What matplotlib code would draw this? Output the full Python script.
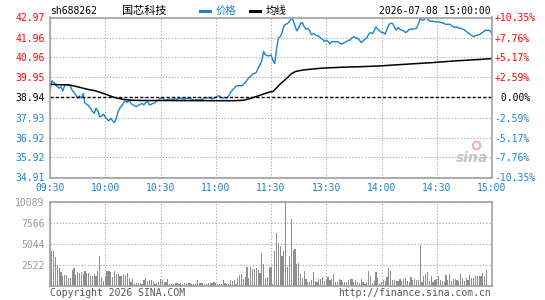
import matplotlib
matplotlib.use("Agg")
import matplotlib.pyplot as plt
from matplotlib.lines import Line2D

plt.rcParams['font.family'] = ['DejaVu Sans Mono', 'Noto Sans CJK SC']

# Chart data
code = "sh688262"
name = "国芯科技"
stamp = "2026-07-08 15:00:00"
prev_close = 38.94

# one price per minute, 09:30 .. 11:30 / 13:00 .. 15:00 (241 points)
price = [
    39.30, 39.78, 39.70, 39.58, 39.48, 39.41, 39.48, 39.27, 39.56, 39.58,
    39.56, 39.53, 39.31, 39.19, 39.07, 38.91, 39.02, 38.91, 39.14, 38.64,
    38.60, 38.52, 38.40, 38.24, 38.14, 38.40, 38.27, 37.96, 38.01, 38.10,
    37.96, 37.85, 37.76, 37.90, 37.76, 37.68, 37.90, 38.24, 38.43, 38.52,
    38.69, 38.77, 38.69, 38.80, 38.64, 38.57, 38.52, 38.49, 38.55, 38.60,
    38.64, 38.57, 38.69, 38.74, 38.57, 38.60, 38.64, 38.69, 38.77, 38.80,
    38.91, 38.91, 38.84, 38.80, 38.84, 38.87, 38.85, 38.85, 38.87, 38.84,
    38.91, 38.87, 38.89, 38.85, 38.91, 38.87, 38.91, 38.85, 38.80, 38.81,
    38.84, 38.81, 38.86, 38.84, 38.94, 38.91, 38.94, 38.91, 38.87, 38.91,
    38.94, 39.02, 39.01, 38.94, 38.91, 38.94, 38.91, 39.02, 39.19, 39.31,
    39.41, 39.51, 39.53, 39.54, 39.53, 39.58, 39.70, 39.81, 39.95, 40.01,
    40.12, 40.15, 40.20, 40.42, 40.59, 40.79, 41.26, 41.09, 41.04, 41.04,
    41.09, 40.82, 40.65, 41.37, 41.93, 42.00, 42.21, 42.55, 42.63, 42.67,
    42.77, 42.94, 42.84, 42.55, 42.30, 42.43, 42.67, 42.72, 42.50, 42.38,
    42.43, 42.30, 42.10, 42.16, 42.10, 42.05, 42.03, 41.93, 41.88, 41.76,
    41.83, 41.76, 41.63, 41.76, 41.76, 41.74, 41.76, 41.71, 41.63, 41.66,
    41.71, 41.76, 41.83, 41.83, 41.96, 42.00, 41.93, 41.93, 41.83, 41.71,
    41.79, 41.88, 41.93, 42.13, 42.21, 42.16, 42.30, 42.50, 42.37, 42.30,
    42.21, 42.21, 42.13, 42.38, 42.60, 42.68, 42.67, 42.50, 42.33, 42.47,
    42.38, 42.33, 42.30, 42.21, 42.26, 42.37, 42.38, 42.38, 42.40, 42.43,
    42.63, 42.94, 42.84, 42.85, 42.94, 42.90, 42.80, 42.77, 42.80, 42.74,
    42.77, 42.75, 42.72, 42.70, 42.67, 42.62, 42.63, 42.63, 42.57, 42.50,
    42.47, 42.50, 42.43, 42.43, 42.38, 42.35, 42.26, 42.20, 42.13, 42.06,
    42.00, 42.05, 42.08, 42.10, 42.16, 42.23, 42.30, 42.33, 42.33, 42.30,
    42.13,
]

# average price line, sampled where it bends
avg_minutes = [0, 5, 10, 15, 20, 25, 30, 35, 40, 45,
               50, 90, 100, 105, 108, 111, 114, 116, 119, 121,
               123, 125, 127, 129, 131, 133, 137, 142, 148, 155,
               160, 168, 179, 194, 208, 221, 234, 240]
avg_price = [39.61, 39.58, 39.58, 39.48, 39.36, 39.27, 39.11, 38.94, 38.84, 38.80,
             38.79, 38.78, 38.78, 38.80, 38.87, 38.96, 39.05, 39.12, 39.21, 39.24,
             39.42, 39.62, 39.78, 39.95, 40.13, 40.24, 40.32, 40.37, 40.42, 40.45,
             40.47, 40.49, 40.53, 40.62, 40.70, 40.79, 40.86, 40.90]

# volume per minute (lots)
volume = [
    450, 4160, 4160, 3400, 2360, 2080, 1600, 1200, 1320, 1240,
    880, 880, 1840, 2080, 1280, 1600, 1480, 1600, 1360, 1720,
    1480, 1480, 1120, 1120, 1440, 1120, 1720, 3520, 1000, 560,
    1000, 1720, 1720, 1600, 1000, 1720, 1360, 1360, 1120, 1120,
    1360, 1120, 1480, 760, 400, 760, 240, 360, 360, 360,
    240, 640, 880, 560, 640, 640, 480, 240, 360, 480,
    800, 680, 400, 480, 760, 240, 240, 240, 280, 360,
    240, 360, 240, 280, 240, 360, 360, 240, 240, 200,
    640, 360, 360, 280, 160, 240, 360, 280, 360, 480,
    360, 240, 240, 160, 640, 360, 240, 240, 640, 560,
    640, 240, 880, 1240, 1360, 760, 1000, 2200, 880, 2200,
    1960, 1960, 2080, 1840, 1480, 3880, 2560, 880, 1000, 2160,
    2200, 160, 4100, 6350, 5100, 4800, 3500, 4100, 10089, 2200,
    3550, 8000, 4300, 4400, 2600, 2750, 1400, 960, 1720, 760,
    400, 400, 640, 1600, 520, 400, 760, 760, 1000, 520,
    640, 1000, 640, 760, 1360, 480, 480, 760, 640, 400,
    480, 480, 640, 760, 760, 480, 640, 400, 360, 760,
    480, 240, 400, 1720, 1120, 360, 520, 1600, 880, 240,
    480, 640, 520, 1000, 2080, 1720, 640, 640, 560, 520,
    760, 520, 760, 880, 520, 480, 1000, 640, 760, 640,
    640, 4840, 400, 1120, 1360, 1600, 520, 1120, 400, 640,
    760, 1120, 640, 520, 400, 1240, 640, 1360, 520, 760,
    760, 640, 520, 1360, 880, 520, 880, 640, 1240, 880,
    880, 1120, 1120, 1120, 1120, 1480, 1120, 1840, 0, 0,
    0,
]

price_ticks = [42.97, 41.96, 40.96, 39.95, 38.94, 37.93, 36.92, 35.92, 34.91]
pct_labels = ["+10.35%", "+7.76%", "+5.17%", "+2.59%", " 0.00%",
              "-2.59%", "-5.17%", "-7.76%", "-10.35%"]
time_labels = ["09:30", "10:00", "10:30", "11:00", "11:30",
               "13:30", "14:00", "14:30", "15:00"]
vol_ticks = [10089, 7566, 5044, 2522]

RED = '#ff0000'
BLUE = '#1a82d2'
FRAME = '#a0a0a0'
GRID = '#b0b0b0'

W, H = 545, 300
fig = plt.figure(figsize=(W / 100, H / 100), dpi=100)
fig.patch.set_facecolor('white')


def px_axes(l, t, r, b):
    return fig.add_axes([l / W, 1 - b / H, (r - l) / W, (b - t) / H])


def style_frame(ax):
    for s in ax.spines.values():
        s.set_color(FRAME)
        s.set_linewidth(1.2)
    ax.tick_params(length=0)
    ax.grid(True, color=GRID, linestyle=(0, (1.2, 1.6)), linewidth=0.8)
    ax.set_axisbelow(True)


def level_color(p):
    if p > prev_close:
        return RED
    if p == prev_close:
        return 'black'
    return BLUE


minutes = list(range(len(price)))
tick_min = [0, 30, 60, 90, 120, 150, 180, 210, 240]

# price panel
ax = px_axes(50, 17.5, 492, 177.5)
style_frame(ax)
ax.plot(minutes, price, color=BLUE, lw=1.0)
ax.plot(avg_minutes, avg_price, color='black', lw=1.1)
ax.axhline(prev_close, color='black', lw=1.0, linestyle=(0, (2.2, 1.6)))
ax.set_xlim(0, 240)
ax.set_ylim(price_ticks[-1], price_ticks[0])
ax.set_xticks(tick_min)
ax.set_xticklabels(time_labels, color=BLUE, fontsize=7)
ax.tick_params(axis='x', pad=4)
ax.set_yticks(price_ticks)
ax.set_yticklabels([f"{p:.2f}" for p in price_ticks], fontsize=7)
ax.tick_params(axis='y', pad=4)
for lab, p in zip(ax.get_yticklabels(), price_ticks):
    lab.set_color(level_color(p))

ax_r = ax.twinx()
ax_r.set_ylim(ax.get_ylim())
ax_r.set_yticks(price_ticks)
ax_r.set_yticklabels(pct_labels, fontsize=7)
ax_r.tick_params(length=0, pad=2)
for s in ax_r.spines.values():
    s.set_visible(False)
for lab, p in zip(ax_r.get_yticklabels(), price_ticks):
    lab.set_color(level_color(p))

# sina watermark
ax.text(0.955, 0.12, "sina", transform=ax.transAxes, ha='center', va='center',
        fontsize=10, fontstyle='italic', fontweight='bold', color='#c4c4c4',
        family='DejaVu Sans')
ax.scatter([0.965], [0.2], transform=ax.transAxes, s=30, facecolor='none',
           edgecolor='#f2b0b0', linewidth=1.5)

# volume panel
axv = px_axes(50, 201.5, 492, 285.5)
style_frame(axv)
axv.bar(minutes, volume, width=0.65, color='#8e8e8e', linewidth=0)
axv.set_xlim(0, 240)
axv.set_ylim(0, vol_ticks[0])
axv.set_xticks(tick_min)
axv.set_xticklabels([])
axv.set_yticks(vol_ticks)
axv.set_yticklabels([str(v) for v in vol_ticks], color='#999999', fontsize=7)
axv.tick_params(axis='y', pad=4)


def fx(x):
    return x / W


def fy(y):
    return 1 - y / H


# header
fig.text(fx(50), fy(11), code, fontsize=7, ha='left', va='center')
fig.text(fx(122), fy(11), name, fontsize=8, ha='left', va='center',
         family=['Noto Sans CJK SC'])
fig.add_artist(Line2D([fx(200), fx(210)], [fy(11), fy(11)], color=BLUE, lw=2.2))
fig.text(fx(216), fy(11), "价格", fontsize=7.5, ha='left', va='center', color=BLUE,
         family=['Noto Sans CJK SC'])
fig.add_artist(Line2D([fx(250), fx(260)], [fy(11), fy(11)], color='black', lw=2.2))
fig.text(fx(266), fy(11), "均线", fontsize=7.5, ha='left', va='center',
         family=['Noto Sans CJK SC'])
fig.text(fx(491), fy(11), stamp, fontsize=7, ha='right', va='center')

# footer
fig.text(fx(50), fy(293), "Copyright 2026 SINA.COM", fontsize=7, ha='left',
         va='center', color='#555555')
fig.text(fx(491), fy(293), "http://finance.sina.com.cn", fontsize=7, ha='right',
         va='center', color='#555555')

fig.savefig("out.png", dpi=100, facecolor='white')
